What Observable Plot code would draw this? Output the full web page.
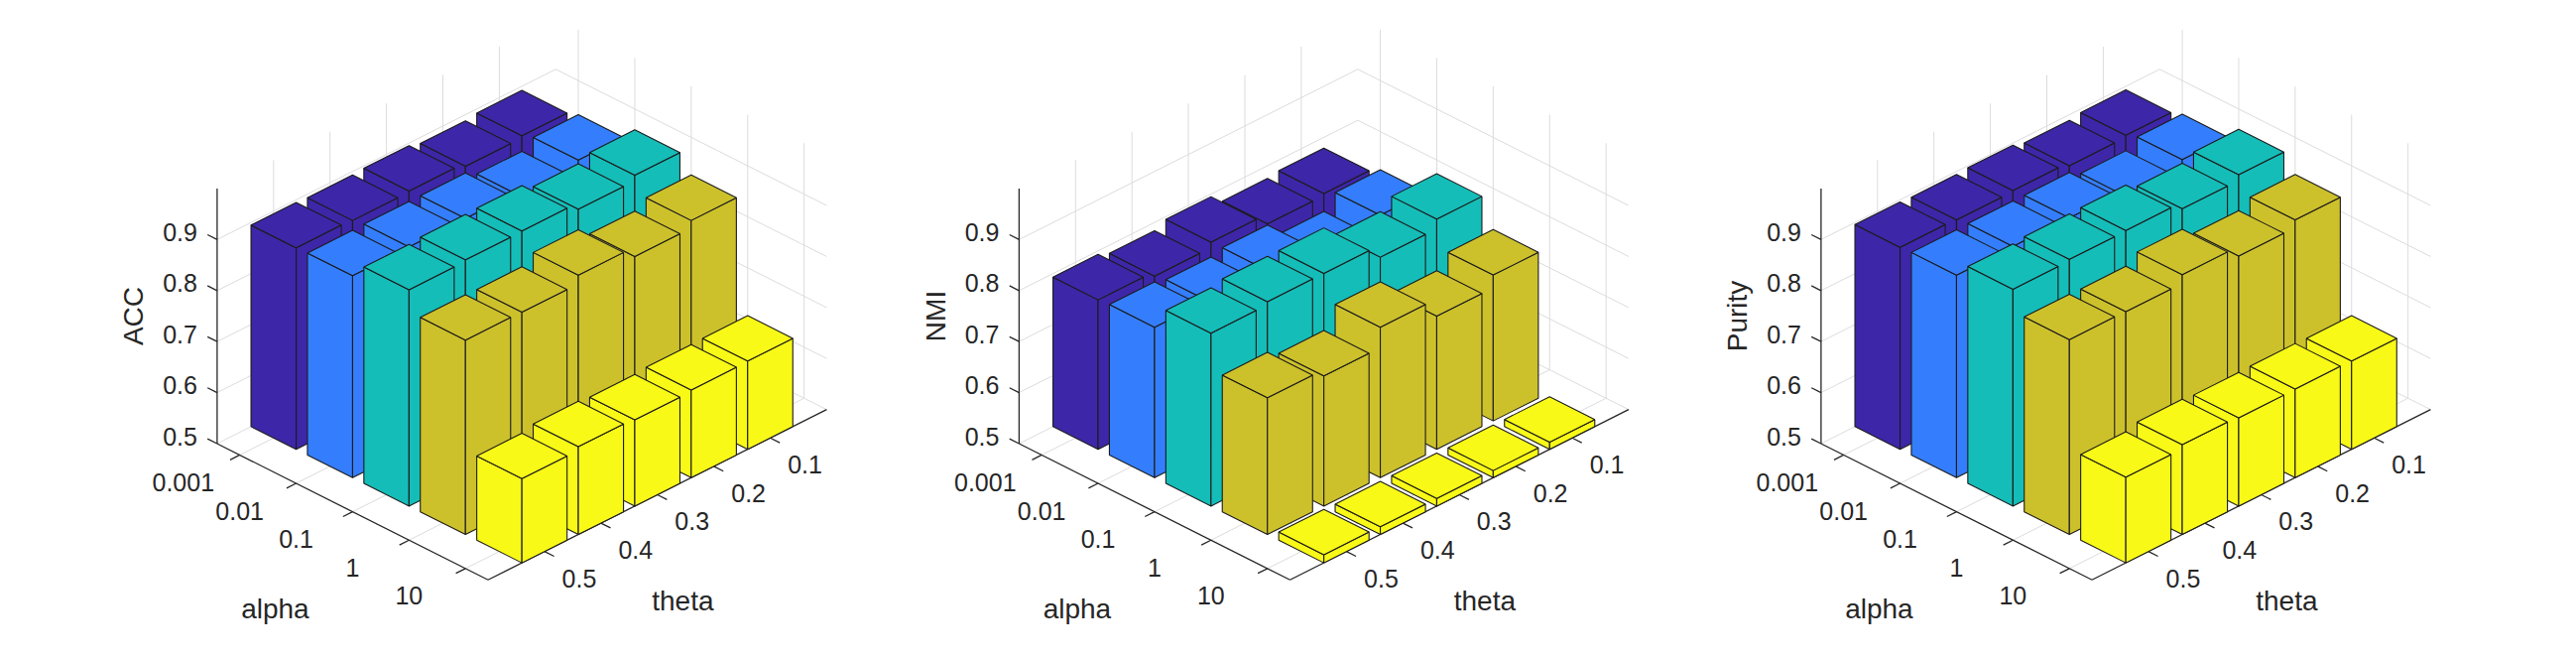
<!DOCTYPE html>
<html>
<head>
<meta charset="utf-8">
<script src="https://cdn.jsdelivr.net/npm/d3@7"></script>
<script src="https://cdn.jsdelivr.net/npm/@observablehq/plot@0.6"></script>
<style>
  html, body { margin: 0; padding: 0; background: #ffffff; }
  #chart svg { display: block; }
</style>
</head>
<body>
<div id="chart"></div>
<script>
// ---------------- data ----------------
const alphaLabels = ["0.001", "0.01", "0.1", "1", "10"];   // rows (series)
const thetaLabels = ["0.1", "0.2", "0.3", "0.4", "0.5"];    // columns
const zTicks = [0.5, 0.6, 0.7, 0.8, 0.9];
const metricNames = ["ACC", "NMI", "Purity"];
const seriesColors = ["#3e26a8", "#347efd", "#15bdb8", "#cdc12b", "#f9f917"];

// values[alpha][theta]
const accValues = [
  [0.892, 0.888, 0.895, 0.893, 0.895],
  [0.900, 0.884, 0.897, 0.897, 0.896],
  [0.926, 0.915, 0.928, 0.927, 0.924],
  [0.893, 0.878, 0.897, 0.880, 0.881],
  [0.673, 0.672, 0.669, 0.672, 0.665]
];
const nmiValues = [
  [0.779, 0.775, 0.795, 0.784, 0.793],
  [0.792, 0.766, 0.795, 0.788, 0.795],
  [0.840, 0.821, 0.845, 0.845, 0.839],
  [0.786, 0.761, 0.795, 0.755, 0.768],
  [0.514, 0.514, 0.515, 0.515, 0.516]
];
const purityValues = [
  [0.893, 0.889, 0.896, 0.894, 0.896],
  [0.901, 0.885, 0.898, 0.898, 0.897],
  [0.927, 0.916, 0.929, 0.928, 0.925],
  [0.894, 0.879, 0.898, 0.881, 0.882],
  [0.673, 0.674, 0.673, 0.676, 0.668]
];
const panelValues = [accValues, nmiValues, purityValues];

// ---------------- layout / 3D view ----------------
const W = 2597, H = 665;
const panelLeft = [218.4, 1026.9, 1835.4];   // screen x of the z axis in each panel
const floorY = 446.5;                         // screen y of z = 0.5 at the z axis
const aLim = [0.6, 5.4], tLim = [0, 6], zLim = [0.5, 1];
const ua = [56.9, 28.6];    // screen step per alpha index
const ut = [-56.9, 28.6];   // screen step per theta index
const barHalf = 0.4;
const zScale = Plot.scale({y: {domain: zLim, range: [floorY, floorY - 257]}});

function proj(k, a, t, z) {
  const da = a - aLim[0], dt = t - tLim[1];
  return [panelLeft[k] + da * ua[0] + dt * ut[0],
          zScale.apply(z) + da * ua[1] + dt * ut[1]];
}
function seg(k, p, q) {
  const [x1, y1] = proj(k, ...p), [x2, y2] = proj(k, ...q);
  return {x1, y1, x2, y2};
}

const idx = [1, 2, 3, 4, 5];
const grid = [], axisLines = [], ticks = [], faces = [];
const zTickText = [], alphaText = [], thetaText = [], titleText = [];
let faceId = 0;

panelValues.forEach((values, k) => {
  const z0 = zLim[0], z1 = zLim[1];
  // floor grid
  idx.forEach(a => grid.push(seg(k, [a, tLim[0], z0], [a, tLim[1], z0])));
  idx.forEach(t => grid.push(seg(k, [aLim[0], t, z0], [aLim[1], t, z0])));
  // back-left wall (alpha = min)
  idx.forEach(t => grid.push(seg(k, [aLim[0], t, z0], [aLim[0], t, z1])));
  zTicks.forEach(z => grid.push(seg(k, [aLim[0], tLim[0], z], [aLim[0], tLim[1], z])));
  // back-right wall (theta = min)
  idx.forEach(a => grid.push(seg(k, [a, tLim[0], z0], [a, tLim[0], z1])));
  zTicks.forEach(z => grid.push(seg(k, [aLim[0], tLim[0], z], [aLim[1], tLim[0], z])));

  // axis lines
  axisLines.push(seg(k, [aLim[0], tLim[1], z0], [aLim[0], tLim[1], z1]));
  axisLines.push(seg(k, [aLim[0], tLim[1], z0], [aLim[1], tLim[1], z0]));
  axisLines.push(seg(k, [aLim[1], tLim[1], z0], [aLim[1], tLim[0], z0]));

  // ticks + labels
  zTicks.forEach(z => {
    ticks.push(seg(k, [aLim[0], tLim[1], z], [aLim[0] - 0.17, tLim[1], z]));
    const [x, y] = proj(k, aLim[0], tLim[1], z);
    zTickText.push({x: x - 20, y: y - 6.5, text: String(z)});
  });
  idx.forEach((a, i) => {
    ticks.push(seg(k, [a, tLim[1], z0], [a, tLim[1] + 0.17, z0]));
    const [x, y] = proj(k, a, tLim[1] + 1.0, z0);
    alphaText.push({x, y, text: alphaLabels[i]});
  });
  idx.forEach((t, j) => {
    ticks.push(seg(k, [aLim[1], t, z0], [aLim[1] + 0.17, t, z0]));
    const [x, y] = proj(k, aLim[1], t, z0);
    thetaText.push({x: x + 35, y: y + 28, text: thetaLabels[j]});
  });
  const [ax] = proj(k, aLim[0], tLim[1], z0);
  titleText.push({x: ax - 83.5, y: zScale.apply((z0 + z1) / 2), text: metricNames[k], rotate: -90});
  titleText.push({x: ax + 58.5, y: 613.5, text: "alpha", rotate: 0});
  titleText.push({x: ax + 469.5, y: 605.5, text: "theta", rotate: 0});

  // bars (painter's order: back to front)
  const cells = [];
  values.forEach((row, i) => row.forEach((v, j) => cells.push({a: i + 1, t: j + 1, v, color: seriesColors[i]})));
  cells.sort((p, q) => (p.a + p.t) - (q.a + q.t) || p.a - q.a);
  for (const c of cells) {
    const {a, t, v} = c, w = barHalf;
    if (v <= z0) continue;
    const quads = [
      [[a - w, t + w, z0], [a + w, t + w, z0], [a + w, t + w, v], [a - w, t + w, v]],
      [[a + w, t + w, z0], [a + w, t - w, z0], [a + w, t - w, v], [a + w, t + w, v]],
      [[a - w, t - w, v], [a + w, t - w, v], [a + w, t + w, v], [a - w, t + w, v]]
    ];
    for (const q of quads) {
      const id = faceId++;
      for (const p of q) {
        const [x, y] = proj(k, ...p);
        faces.push({x, y, id, fill: c.color});
      }
    }
  }
});

const font = "'Liberation Sans', Arial, Helvetica, sans-serif";
const textColor = "#262626";

const chart = Plot.plot({
  width: W,
  height: H,
  margin: 0,
  x: {domain: [0, W], range: [0, W], axis: null},
  y: {domain: [0, H], range: [0, H], axis: null},
  color: {type: "identity"},
  style: {background: "#ffffff", fontFamily: font},
  marks: [
    Plot.link(grid, {x1: "x1", y1: "y1", x2: "x2", y2: "y2", stroke: "#dcdcdc", strokeWidth: 1}),
    Plot.link(axisLines, {x1: "x1", y1: "y1", x2: "x2", y2: "y2", stroke: textColor, strokeWidth: 1.3}),
    Plot.link(ticks, {x1: "x1", y1: "y1", x2: "x2", y2: "y2", stroke: textColor, strokeWidth: 1.3}),
    Plot.line(faces, {x: "x", y: "y", z: "id", fill: "fill", stroke: "#1c1c1c", strokeWidth: 1.1,
      strokeLinejoin: "miter", curve: "linear-closed"}),
    Plot.text(zTickText, {x: "x", y: "y", text: "text", textAnchor: "end", fontSize: 25, fill: textColor}),
    Plot.text(alphaText, {x: "x", y: "y", text: "text", textAnchor: "middle", fontSize: 25, fill: textColor}),
    Plot.text(thetaText, {x: "x", y: "y", text: "text", textAnchor: "middle", fontSize: 25, fill: textColor}),
    Plot.text(titleText, {x: "x", y: "y", text: "text", rotate: "rotate", textAnchor: "middle", fontSize: 28, fill: textColor})
  ]
});
document.getElementById("chart").appendChild(chart);
</script>
</body>
</html>
